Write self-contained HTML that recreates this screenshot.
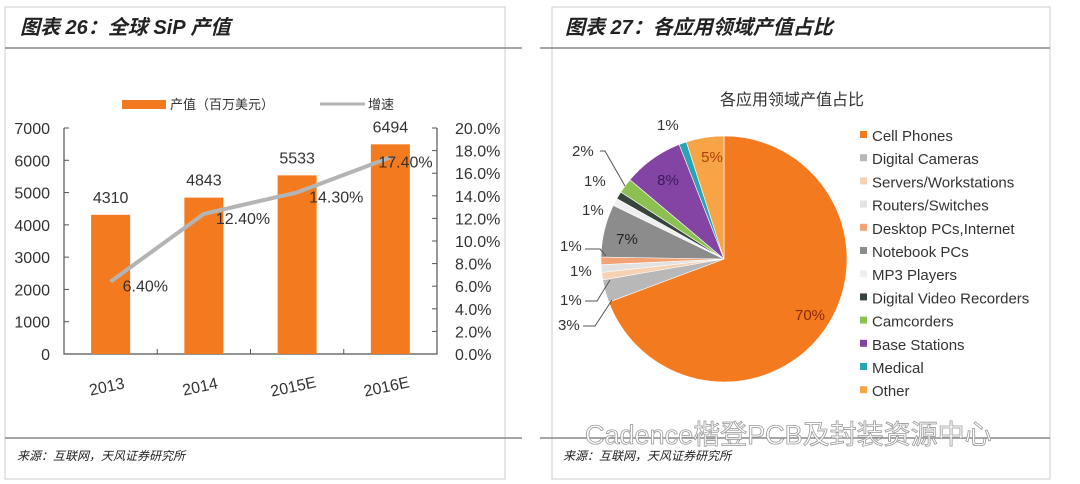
<!DOCTYPE html>
<html><head><meta charset="utf-8"><style>
body{margin:0;background:#fff;width:1080px;height:484px;overflow:hidden}
svg{display:block;font-family:"Liberation Sans","Noto Sans CJK SC",sans-serif}
</style></head><body>
<svg width="1080" height="484" viewBox="0 0 1080 484">
<g stroke="#bbb" fill="none">
<rect x="5" y="7" width="500" height="472" stroke="#ccc"/>
<line x1="5" y1="48" x2="522" y2="48" stroke="#888" stroke-width="1.5"/>
<line x1="5" y1="438" x2="522" y2="438" stroke="#888" stroke-width="1.5"/>
</g>
<g stroke="#bbb" fill="none">
<rect x="552" y="7" width="498" height="472" stroke="#ccc"/>
<line x1="540" y1="48" x2="1050" y2="48" stroke="#888" stroke-width="1.5"/>
<line x1="540" y1="438" x2="1050" y2="438" stroke="#888" stroke-width="1.5"/>
</g>
<text x="20" y="34" font-size="20" font-style="italic" font-weight="bold" fill="#222">图表 26：全球 SiP 产值</text>
<text x="565" y="34" font-size="20" font-style="italic" font-weight="bold" fill="#222">图表 27：各应用领域产值占比</text>
<text x="17" y="460" font-size="12" font-style="italic" fill="#222">来源：互联网，天风证券研究所</text>
<text x="563" y="460" font-size="12" font-style="italic" fill="#222">来源：互联网，天风证券研究所</text>

<g id="bar"></g>
<g id="pie"></g>
<text x="585" y="444" font-size="27" fill="#fff" stroke="#999" stroke-width="0.8">Cadence楷登PCB及封装资源中心</text>
</svg>
<script>
const categories=["2013","2014","2015E","2016E"];
const values=[4310,4843,5533,6494];
const growth=[6.4,12.4,14.3,17.4];
const growthLabels=["6.40%","12.40%","14.30%","17.40%"];
const leftTicks=[0,1000,2000,3000,4000,5000,6000,7000];
const rightTicks=[0,2,4,6,8,10,12,14,16,18,20];
const pieNames=["Cell Phones","Digital Cameras","Servers/Workstations","Routers/Switches","Desktop PCs,Internet","Notebook PCs","MP3 Players","Digital Video Recorders","Camcorders","Base Stations","Medical","Other"];
const pieValues=[70,3,1,1,1,7,1,1,2,8,1,5];
const pieColors=["#f47a1f","#b8b8b8","#f6d2b4","#e2e2e2","#f2a274","#8c8c8c","#efefef","#38453a","#8cc152","#8444a4","#2aa3b3","#f6a445"];

const NS="http://www.w3.org/2000/svg";
function mk(p,t,a,txt){const e=document.createElementNS(NS,t);for(const k in a)e.setAttribute(k,a[k]);if(txt!==undefined)e.textContent=txt;p.appendChild(e);return e;}
const bar=document.getElementById('bar');
const X0=64,X1=437,Y0=354,Y7=128;
const y=v=>Y0-(v/7000)*(Y0-Y7);
const yr=v=>Y0-(v/20)*(Y0-Y7);
const bw=(X1-X0)/categories.length;
const xc=i=>X0+bw*(i+0.5);
leftTicks.forEach(t=>{const e=mk(bar,'text',{x:50,y:y(t)+6,'font-size':16,'text-anchor':'end',fill:'#333'},t);


mk(bar,'line',{x1:X0,x2:X0+5,y1:y(t),y2:y(t),stroke:'#555'});});
rightTicks.forEach(t=>{const e=mk(bar,'text',{x:455,y:yr(t)+6,'font-size':16,fill:'#333'},t.toFixed(1)+'%');


mk(bar,'line',{x1:X1-5,x2:X1,y1:yr(t),y2:yr(t),stroke:'#555'});});
mk(bar,'path',{d:`M${X0} ${Y7}V${Y0}H${X1}V${Y7}`,fill:'none',stroke:'#555','stroke-width':1.2});
categories.forEach((c,i)=>{
 const r=mk(bar,'rect',{x:xc(i)-19.5,y:y(values[i]),width:39,height:Y0-y(values[i]),fill:'#f47a1f'});
 
 
 const v=mk(bar,'text',{x:xc(i),y:y(values[i])-12,'font-size':16,'text-anchor':'middle',fill:'#333'},values[i]);
 
 
 const cl=mk(bar,'text',{x:xc(i)-4,y:392,'font-size':16,'text-anchor':'middle',fill:'#333',transform:`rotate(-12 ${xc(i)-4} 386)`},c);
 
 
 if(i>0)mk(bar,'line',{x1:X0+bw*i,x2:X0+bw*i,y1:Y0,y2:Y0-5,stroke:'#555'});
});
const line=mk(bar,'polyline',{points:growth.map((g,i)=>xc(i)+','+yr(g)).join(' '),fill:'none',stroke:'#b4b4b4','stroke-width':4});


growth.forEach((g,i)=>{const t=mk(bar,'text',{x:xc(i)+(i===3?-12:12),y:yr(g)+10,'font-size':16,fill:'#333'},growthLabels[i]);

});
// legend
mk(bar,'rect',{x:122,y:100,width:44,height:9,fill:'#f47a1f'});
const l1=mk(bar,'text',{x:170,y:109,'font-size':13,fill:'#333'},'产值（百万美元）');


mk(bar,'line',{x1:320,x2:365,y1:104,y2:104,stroke:'#b4b4b4','stroke-width':3});
const l2=mk(bar,'text',{x:368,y:109,'font-size':13,fill:'#333'},'增速');



// pie
const pie=document.getElementById('pie');
const cx=724,cy=259,R=123;
const tt=mk(pie,'text',{x:792,y:105,'font-size':16,'text-anchor':'middle',fill:'#333'},'各应用领域产值占比');


const tot=pieValues.reduce((a,b)=>a+b,0);
let a0=0;
const pt=(a,r)=>[cx+r*Math.sin(a),cy-r*Math.cos(a)];
pieValues.forEach((v,i)=>{
 const a1=a0+v/tot*2*Math.PI;
 const [x0,y0]=pt(a0,R),[x1,y1]=pt(a1,R);
 const p=mk(pie,'path',{d:`M${cx} ${cy}L${x0} ${y0}A${R} ${R} 0 ${a1-a0>Math.PI?1:0} 1 ${x1} ${y1}Z`,fill:pieColors[i],stroke:'#fff','stroke-width':0.6});
 
 
 a0=a1;
});
[[810,320,'70%','#8a2a00'],[668,185,'8%','#3a1a5a'],[627,244,'7%','#222'],[712,162,'5%','#b04000']].forEach(l=>{
 const t=mk(pie,'text',{x:l[0],y:l[1],'font-size':15,'text-anchor':'middle',fill:l[3]},l[2]);
 
 });
[[657,130,'1%'],[572,156,'2%'],[584,186,'1%'],[582,215,'1%'],[560,251,'1%'],[570,276,'1%'],[560,305,'1%'],[558,330,'3%']].forEach(l=>{
 const t=mk(pie,'text',{x:l[0],y:l[1],'font-size':15,fill:'#333'},l[2]);
 
 });
['M600 151H605L625 186','M585 249H600L606 256','M585 301H597L610 280','M583 326H595L612 300'].forEach(d=>mk(pie,'path',{d:d,fill:'none',stroke:'#555'}));
pieNames.forEach((n,i)=>{
 const yy=136+i*23.2;
 mk(pie,'rect',{x:860,y:yy-5,width:7,height:7,fill:pieColors[i]});
 const t=mk(pie,'text',{x:872,y:yy+5,'font-size':15,fill:'#333'},n);
 
 
});
</script>
</body></html>
